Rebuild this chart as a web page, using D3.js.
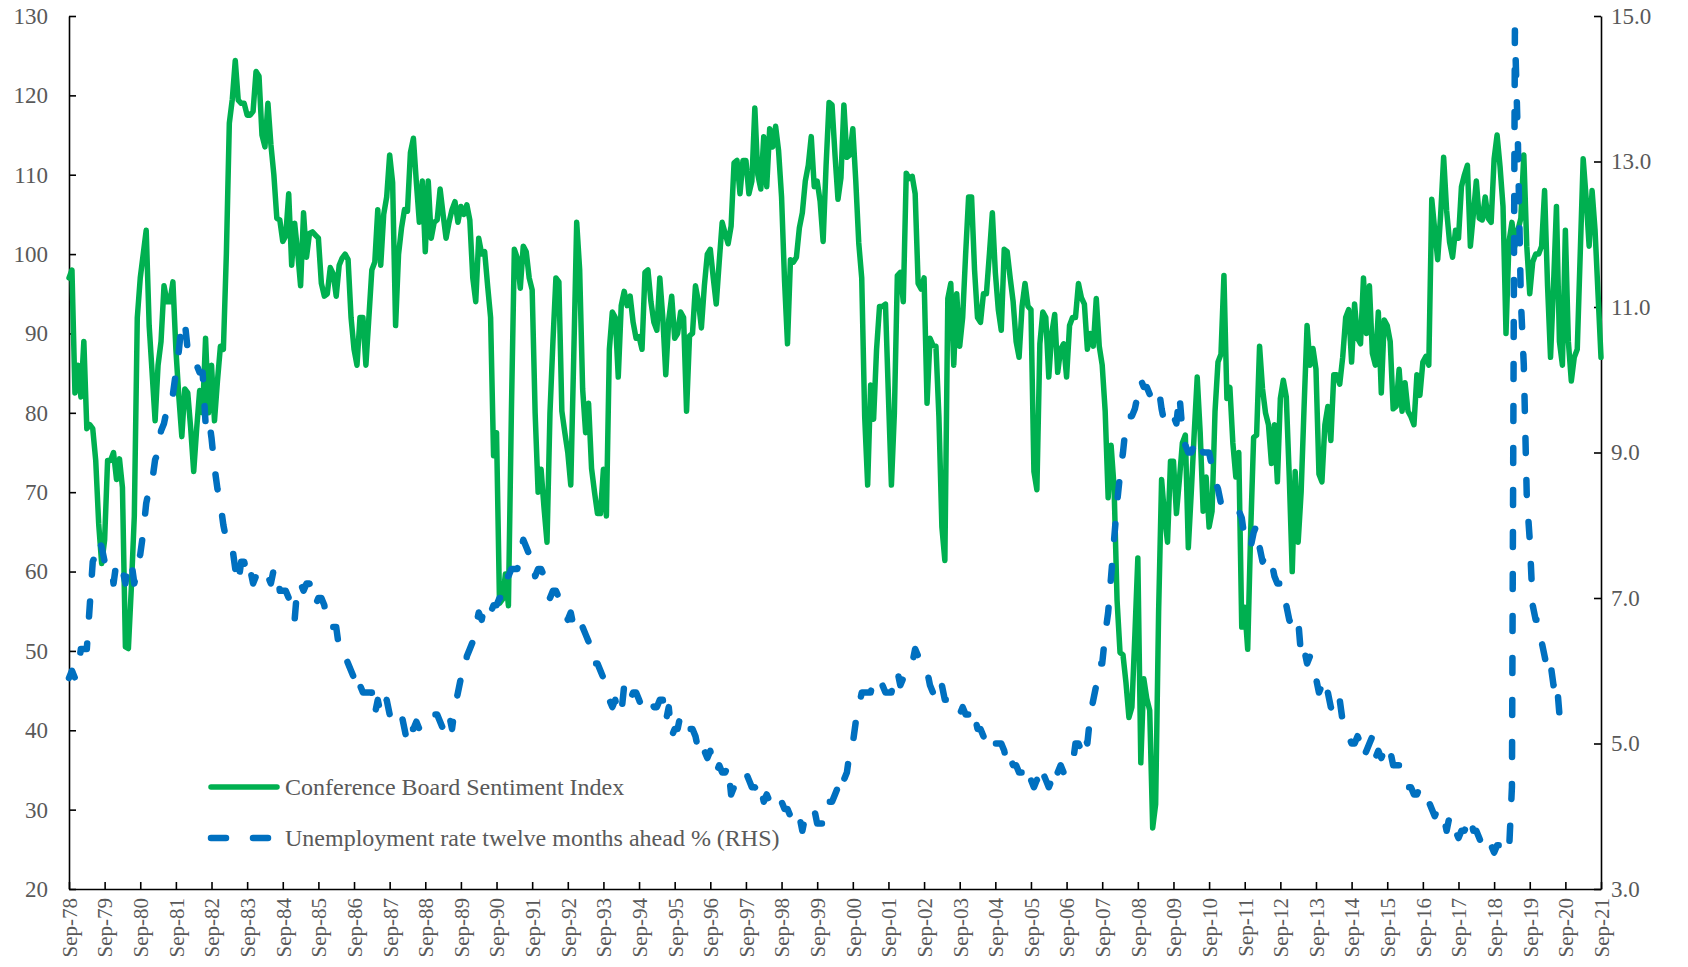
<!DOCTYPE html>
<html>
<head>
<meta charset="utf-8">
<script src="https://cdn.jsdelivr.net/npm/d3@7.9.0/dist/d3.min.js"></script>
<style>
  body { margin: 0; background: #fff; }
  text { font-family: "Liberation Serif", "Times New Roman", serif; }
</style>
</head>
<body>
<div id="chart"></div>
<script>
// monthly, Sep-78 .. Sep-21
const sentiment = [
  97, 98, 82.5, 86, 82, 89, 78, 78.5, 78, 74, 66, 61,
  64, 74, 74, 75, 71.6, 74.2, 70.6, 50.5, 50.3, 58, 67, 92,
  97, 100, 103, 91, 85, 79, 86, 89, 96, 94, 94, 96.5,
  88, 82, 77, 83, 82.5, 78, 72.6, 78, 82.8, 80, 89.4, 80,
  86, 79, 84, 88.4, 88, 100, 116.5, 119.5, 124.4, 119.4, 119, 119,
  117.5, 117.5, 118, 123, 122.4, 115, 113.5, 119, 113.8, 110, 104.5, 104.3,
  101.6, 102.3, 107.6, 98.6, 103.9, 100.3, 96, 105.2, 99.6, 102.6, 102.8, 102.4,
  102, 96.3, 94.7, 95, 98.3, 97.5, 94.7, 98.6, 99.5, 100, 99.3, 92,
  88, 86, 92, 92, 86, 92, 98, 99, 105.6, 98.6, 105, 107.2,
  112.5, 109, 91, 100, 103.3, 105.6, 105.4, 112.8, 114.6, 109, 104, 109.2,
  100.3, 109.2, 102, 104, 104.3, 108.2, 105, 102, 104, 105.6, 106.6, 104,
  106, 105, 106.2, 104.3, 97, 94, 102, 100, 100.3, 96, 92, 74.6,
  77.5, 56, 56.5, 59.7, 55.7, 80, 100.6, 99.5, 95.7, 101, 100.3, 97,
  95.5, 80, 70, 72.9, 68, 63.7, 80, 89, 97, 96.5, 80.2, 77.5,
  75, 70.9, 87, 104, 98, 83, 77.5, 81.2, 73, 70, 67.3, 67.3,
  72.9, 67, 88, 92.7, 92, 84.5, 93.5, 95.3, 93.5, 94.7, 91.4, 89.4,
  89.6, 88, 97.7, 98, 94, 91.4, 90.4, 97, 92, 84.8, 91.7, 94.7,
  89.4, 90, 92.7, 92, 80.2, 89.7, 90, 96, 94, 90.7, 96, 100,
  100.6, 97, 93.7, 99, 104, 102.6, 101.3, 103.5, 111.5, 111.8, 107.6, 111.8,
  111.8, 107.6, 109.2, 118.4, 110, 108.2, 114.8, 108.5, 115.8, 113.5, 116.1, 113,
  107.2, 96.7, 88.7, 99.3, 99, 99.6, 103.3, 105.2, 109.2, 111.2, 114.8, 108.5,
  109.2, 106.6, 101.6, 111.2, 119.1, 118.8, 112.5, 106.9, 109.6, 118.8, 112.2, 112.5,
  115.8, 109.2, 101.4, 97, 79.5, 70.9, 83.5, 79.2, 88, 93.4, 93.4, 93.7,
  82, 70.9, 80, 97.3, 97.7, 94, 110.2, 109.5, 109.8, 107.6, 96.3, 95.6,
  97, 81.2, 89.4, 88.5, 88.4, 79.5, 65.6, 61.4, 94.4, 96.3, 86, 95,
  88.4, 92, 100, 107.2, 107.2, 98, 92, 91.4, 95, 95, 100, 105.2,
  97.7, 93, 90.4, 100.6, 100.3, 97, 94, 89, 87, 93.4, 96.3, 93.4,
  93, 72.6, 70.3, 88.7, 92.7, 92, 84.5, 90, 92.4, 85.1, 88, 88.7,
  84.5, 91, 92, 92, 96.3, 94.5, 93.7, 88, 90, 88.4, 94.4, 88.4,
  86, 80.2, 69.3, 75.9, 70.6, 56.4, 49.8, 49.5, 46, 41.6, 42.9, 52,
  61.7, 35.9, 46.5, 44, 42.5, 27.7, 30.7, 55, 71.6, 67, 63.7, 73.9,
  73.9, 67.3, 71.6, 76.2, 77.2, 63, 70, 77.5, 84.5, 77.5, 67.6, 71.9,
  65.6, 67.6, 80.2, 86.4, 87.4, 97.3, 81.8, 83.2, 76.2, 71.9, 75, 53,
  55.5, 50.2, 65, 76.9, 77.2, 88.4, 83, 80, 78.5, 73.6, 78.5, 71.3,
  81.8, 84.1, 82, 72, 60, 72.6, 63.7, 70, 80.8, 91, 86, 88.1,
  85.5, 72.3, 71.3, 78.5, 80.8, 76.5, 84.8, 84.8, 83.6, 87, 92, 93,
  86.4, 93.7, 89.4, 88.7, 97, 90, 96, 87.5, 86, 92.7, 82.5, 91.7,
  91, 89, 80.5, 80.8, 85.5, 80.2, 83.8, 80.2, 79.5, 78.5, 84.8, 82.2,
  86.4, 87.1, 86, 106.9, 103, 99.3, 105, 112.2, 105.5, 101.5, 99.6, 103,
  102, 108.5, 110, 111.2, 101, 105, 109.2, 104.5, 104.3, 107.2, 104.5, 104,
  112, 115, 111, 106, 90, 101.5, 104, 101, 103, 104.5, 112.5, 101,
  95, 99, 100, 100, 101, 108, 96, 87, 96, 106, 89, 86,
  103, 89, 84, 87, 88, 100, 112, 107, 101, 108, 103, 95, 87
];

// unemployment rate twelve months ahead, Sep-78 .. Aug-20
const unemployment = [
  5.9, 6.0, 5.9, 6.0,
  6.3, 6.3, 6.3, 6.9, 7.5, 7.6, 7.8, 7.7, 7.5, 7.5, 7.5, 7.2,
  7.5, 7.4, 7.4, 7.2, 7.5, 7.5, 7.2, 7.4, 7.6, 7.9, 8.3, 8.5,
  8.6, 8.9, 9.0, 9.3, 9.4, 9.6, 9.8, 9.8, 10.1, 10.4, 10.8, 10.8,
  10.4, 10.4, 10.3, 10.2, 10.1, 10.1, 9.4, 9.5, 9.2, 8.8, 8.5, 8.3,
  8.0, 7.8, 7.8, 7.7, 7.4, 7.2, 7.5, 7.5, 7.3, 7.4, 7.2, 7.3,
  7.3, 7.2, 7.2, 7.3, 7.2, 7.4, 7.4, 7.1, 7.1, 7.1, 7.0, 7.0,
  6.7, 7.2, 7.2, 7.1, 7.2, 7.2, 7.0, 6.9, 7.0, 7.0, 6.9, 6.6,
  6.6, 6.6, 6.6, 6.3, 6.3, 6.2, 6.1, 6.0, 5.9, 6.0, 5.8, 5.7,
  5.7, 5.7, 5.7, 5.4, 5.6, 5.4, 5.4, 5.6, 5.4, 5.4, 5.3, 5.3,
  5.4, 5.2, 5.0, 5.2, 5.2, 5.3, 5.2, 5.2, 5.3, 5.3, 5.4, 5.4,
  5.4, 5.3, 5.2, 5.4, 5.4, 5.2, 5.5, 5.7, 5.9, 5.9, 6.2, 6.3,
  6.4, 6.6, 6.8, 6.7, 6.9, 6.9, 6.8, 6.9, 6.9, 7.0, 7.0, 7.3,
  7.3, 7.4, 7.4, 7.4, 7.6, 7.8, 7.7, 7.6, 7.6, 7.3, 7.4, 7.4,
  7.3, 7.1, 7.0, 7.1, 7.1, 7.0, 6.9, 6.8, 6.7, 6.8, 6.6, 6.5,
  6.6, 6.6, 6.5, 6.4, 6.1, 6.1, 6.1, 6.0, 5.9, 5.8, 5.6, 5.5,
  5.6, 5.4, 5.4, 5.8, 5.6, 5.6, 5.7, 5.7, 5.6, 5.5, 5.6, 5.6,
  5.6, 5.5, 5.5, 5.6, 5.6, 5.3, 5.5, 5.1, 5.2, 5.2, 5.4, 5.4,
  5.3, 5.2, 5.2, 5.1, 4.9, 5.0, 4.9, 4.8, 4.9, 4.7, 4.6, 4.7,
  4.6, 4.6, 4.7, 4.3, 4.4, 4.5, 4.5, 4.5, 4.6, 4.5, 4.4, 4.4,
  4.3, 4.4, 4.2, 4.3, 4.2, 4.3, 4.3, 4.2, 4.2, 4.1, 4.1, 4.0,
  4.0, 4.1, 4.0, 3.8, 4.0, 4.0, 4.0, 4.1, 3.9, 3.9, 3.9, 3.9,
  4.2, 4.2, 4.3, 4.4, 4.3, 4.5, 4.6, 4.9, 5.0, 5.3, 5.5, 5.7,
  5.7, 5.7, 5.7, 5.9, 5.8, 5.8, 5.8, 5.7, 5.7, 5.7, 5.9, 6.0,
  5.8, 5.9, 5.9, 6.0, 6.1, 6.3, 6.2, 6.1, 6.1, 6.0, 5.8, 5.7,
  5.7, 5.6, 5.8, 5.6, 5.6, 5.6, 5.5, 5.4, 5.4, 5.5, 5.4, 5.4,
  5.3, 5.4, 5.2, 5.2, 5.1, 5.0, 5.0, 4.9, 5.0, 5.0, 5.0, 4.9,
  4.7, 4.8, 4.7, 4.7, 4.6, 4.6, 4.7, 4.7, 4.5, 4.4, 4.5, 4.4,
  4.6, 4.5, 4.4, 4.5, 4.4, 4.6, 4.7, 4.6, 4.7, 4.7, 4.7, 5.0,
  5.0, 4.9, 5.1, 5.0, 5.4, 5.6, 5.8, 6.1, 6.1, 6.5, 6.8, 7.3,
  7.8, 8.3, 8.7, 9.0, 9.4, 9.5, 9.5, 9.6, 9.8, 10.0, 9.9, 9.9,
  9.8, 9.8, 9.9, 9.9, 9.6, 9.4, 9.4, 9.5, 9.5, 9.4, 9.8, 9.3,
  9.1, 9.0, 9.0, 9.1, 9.0, 9.1, 9.0, 9.0, 9.0, 8.8, 8.6, 8.5,
  8.3, 8.3, 8.2, 8.2, 8.2, 8.2, 8.2, 8.1, 7.8, 7.8, 7.7, 7.9,
  8.0, 7.7, 7.5, 7.6, 7.5, 7.5, 7.3, 7.2, 7.2, 7.2, 6.9, 6.7,
  6.6, 6.7, 6.7, 6.2, 6.3, 6.1, 6.2, 6.1, 5.9, 5.7, 5.8, 5.6,
  5.7, 5.5, 5.4, 5.4, 5.6, 5.3, 5.2, 5.1, 5.0, 5.0, 5.1, 5.0,
  4.8, 4.9, 5.0, 5.1, 4.8, 4.9, 4.8, 4.9, 5.0, 4.9, 4.7, 4.7,
  4.7, 4.6, 4.4, 4.4, 4.4, 4.3, 4.3, 4.4, 4.3, 4.2, 4.2, 4.1,
  4.0, 4.1, 4.0, 4.0, 3.8, 4.0, 3.8, 3.8, 3.7, 3.8, 3.8, 3.9,
  4.0, 3.8, 3.8, 3.7, 3.6, 3.6, 3.7, 3.6, 3.5, 3.6, 3.6, 3.6,
  3.5, 3.5, 4.4, 14.8, 13.3, 11.1, 10.2, 8.4, 7.8, 6.9, 6.7, 6.7,
  6.4, 6.2, 6.0, 6.1, 5.8, 5.9, 5.4, 5.2
];

const tickLabels = [
  'Sep-78', 'Sep-79', 'Sep-80', 'Sep-81', 'Sep-82', 'Sep-83', 'Sep-84', 'Sep-85',
  'Sep-86', 'Sep-87', 'Sep-88', 'Sep-89', 'Sep-90', 'Sep-91', 'Sep-92', 'Sep-93',
  'Sep-94', 'Sep-95', 'Sep-96', 'Sep-97', 'Sep-98', 'Sep-99', 'Sep-00', 'Sep-01',
  'Sep-02', 'Sep-03', 'Sep-04', 'Sep-05', 'Sep-06', 'Sep-07', 'Sep-08', 'Sep-09',
  'Sep-10', 'Sep-11', 'Sep-12', 'Sep-13', 'Sep-14', 'Sep-15', 'Sep-16', 'Sep-17',
  'Sep-18', 'Sep-19', 'Sep-20', 'Sep-21'
];
const leftTicks = [20, 30, 40, 50, 60, 70, 80, 90, 100, 110, 120, 130];
const rightTicks = [3, 5, 7, 9, 11, 13, 15];
const seriesNames = ['Conference Board Sentiment Index', 'Unemployment rate twelve months ahead % (RHS)'];

const width = 1688;
const height = 967;
const margin = { top: 16, right: 87, bottom: 78, left: 69 };
const textColor = '#595959';

const svg = d3.select('#chart')
  .append('svg')
  .attr('width', width)
  .attr('height', height);

const x = d3.scaleLinear()
  .domain([0, (tickLabels.length - 1) * 12])
  .range([margin.left, width - margin.right]);

const yLeft = d3.scaleLinear()
  .domain([20, 130])
  .range([height - margin.bottom, margin.top]);

const yRight = d3.scaleLinear()
  .domain([3, 15])
  .range([height - margin.bottom, margin.top]);

// axes
const xAxis = svg.append('g')
  .attr('transform', `translate(0,${height - margin.bottom})`)
  .call(d3.axisBottom(x)
    .tickValues(d3.range(0, tickLabels.length * 12, 12))
    .tickFormat((d, i) => tickLabels[i])
    .tickSize(-7)
    .tickSizeOuter(0));
xAxis.selectAll('text')
  .attr('transform', 'rotate(-90)')
  .attr('text-anchor', 'end')
  .attr('x', -9)
  .attr('y', 0)
  .attr('dy', '0.35em')
  .style('font-size', '21px');

const leftAxis = svg.append('g')
  .attr('transform', `translate(${margin.left},0)`)
  .call(d3.axisLeft(yLeft)
    .tickValues(leftTicks)
    .tickSize(-7)
    .tickPadding(21)
    .tickSizeOuter(0));
leftAxis.selectAll('text').style('font-size', '23px');

const rightAxis = svg.append('g')
  .attr('transform', `translate(${width - margin.right},0)`)
  .call(d3.axisRight(yRight)
    .tickValues(rightTicks)
    .tickFormat(d3.format('.1f'))
    .tickSize(-7)
    .tickPadding(10)
    .tickSizeOuter(0));
rightAxis.selectAll('text').style('font-size', '23px');

svg.selectAll('.domain, .tick line')
  .attr('stroke', '#000')
  .attr('stroke-width', 1.6);
svg.selectAll('.tick text').attr('fill', textColor);

// series
const sentLine = d3.line()
  .x((d, i) => x(i))
  .y(d => yLeft(d));

const unempLine = d3.line()
  .x((d, i) => x(i))
  .y(d => yRight(d));

svg.append('path')
  .datum(sentiment)
  .attr('fill', 'none')
  .attr('stroke', '#00B050')
  .attr('stroke-width', 5.5)
  .attr('stroke-linejoin', 'round')
  .attr('stroke-linecap', 'round')
  .attr('d', sentLine);

svg.append('path')
  .datum(unemployment)
  .attr('fill', 'none')
  .attr('stroke', '#0070C0')
  .attr('stroke-width', 6.5)
  .attr('stroke-linejoin', 'round')
  .attr('stroke-linecap', 'round')
  .attr('stroke-dasharray', '15,27')
  .attr('d', unempLine);

// legend
const legend = svg.append('g');
const legendRows = [
  { name: seriesNames[0], color: '#00B050', dash: null, w: 5.5, y: 787 },
  { name: seriesNames[1], color: '#0070C0', dash: '15,27', w: 6.5, y: 838 }
];
legendRows.forEach(r => {
  legend.append('line')
    .attr('x1', 211).attr('x2', 277)
    .attr('y1', r.y).attr('y2', r.y)
    .attr('stroke', r.color)
    .attr('stroke-width', r.w)
    .attr('stroke-linecap', 'round')
    .attr('stroke-dasharray', r.dash);
  legend.append('text')
    .attr('x', 285)
    .attr('y', r.y)
    .attr('dy', '0.33em')
    .attr('fill', textColor)
    .style('font-size', '24px')
    .text(r.name);
});
</script>
</body>
</html>
